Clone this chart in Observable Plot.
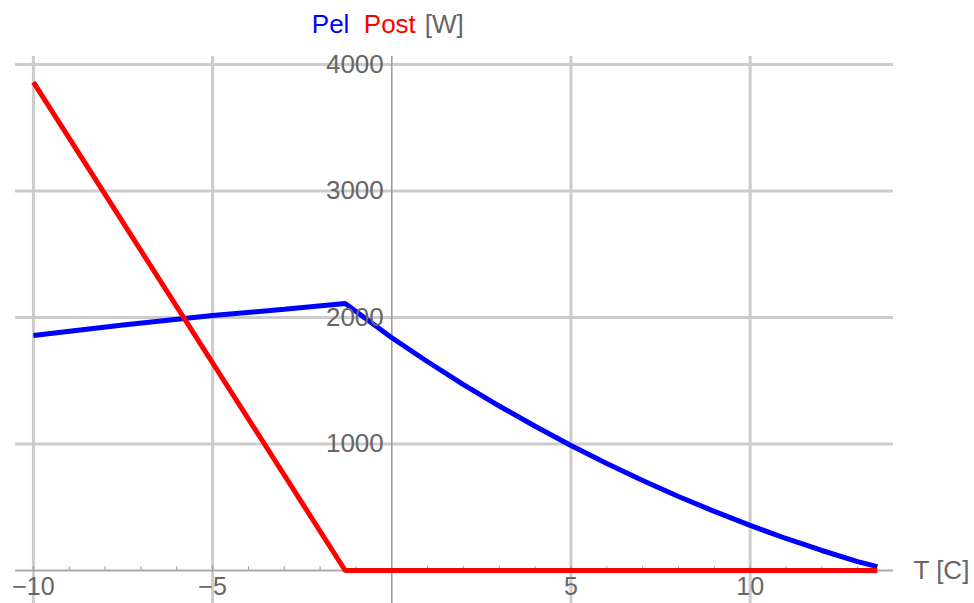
<!DOCTYPE html>
<html>
<head>
<meta charset="utf-8">
<script src="https://cdn.jsdelivr.net/npm/d3@7"></script>
<script src="https://cdn.jsdelivr.net/npm/@observablehq/plot@0.6"></script>
<style>
  html, body { margin: 0; padding: 0; background: #fff; }
  #chart svg { display: block; }
</style>
</head>
<body>
<div id="chart"></div>
<script>
// Electrical power (Pel) versus outside temperature
const pelT = [-10, -7.5, -5, -3, -1.3, 0, 1, 2, 3, 4, 5, 6, 7, 8, 9, 10, 11, 12, 13, 13.55];
const pelW = [1858, 1940, 2015, 2065, 2110, 1840, 1650, 1470, 1300, 1140, 988, 846, 712, 585, 467, 356, 253, 158, 70, 30];

// Auxiliary heating power (Post) versus outside temperature
const postT = [-10, -1.3, 13.55];
const postW = [3860, 0, 0];

// Axis ticks
const xTickValues = [-10, -5, 5, 10];
const xTickLabels = ["\u221210", "\u22125", "5", "10"];
const xMinorTicks = [-10, -9, -8, -7, -6, -5, -4, -3, -2, -1, 1, 2, 3, 4, 5, 6, 7, 8, 9, 10, 11, 12, 13];
const yTickValues = [1000, 2000, 3000, 4000];
const yTickLabels = ["1000", "2000", "3000", "4000"];

// Axis titles
const xTitle = "T [C]";
const yTitleParts = ["Pel", "Post", "[W]"];

const pel = pelT.map((t, i) => ({t, w: pelW[i]}));
const post = postT.map((t, i) => ({t, w: postW[i]}));

const font = "'Liberation Sans', Arial, Helvetica, sans-serif";
const textGray = "#666666";
const gridGray = "#cccccc";
const labelSize = 26;

const chart = Plot.plot({
  width: 974,
  height: 603,
  marginLeft: 15,
  marginRight: 81,
  marginTop: 56,
  marginBottom: 0,
  x: {domain: [-10.5, 14], axis: null},
  y: {domain: [-261, 4063], axis: null},
  style: {fontFamily: font, background: "#fff", overflow: "visible"},
  marks: [
    // grid
    Plot.ruleX(xTickValues, {x: d => d, stroke: gridGray, strokeWidth: 3}),
    Plot.ruleY(yTickValues, {y: d => d, stroke: gridGray, strokeWidth: 3}),
    // axes through the origin
    Plot.ruleY([0], {y: d => d, stroke: "#aaaaaa", strokeWidth: 2}),
    Plot.ruleX([0], {x: d => d, stroke: "#999999", strokeWidth: 1.5}),
    // minor ticks on the temperature axis
    Plot.ruleX(xMinorTicks, {x: d => d, y1: 0, y2: 30, stroke: "#999999", strokeWidth: 1}),
    // curves
    Plot.line(pel, {x: "t", y: "w", stroke: "#0000ff", strokeWidth: 5, strokeLinecap: "butt", strokeLinejoin: "miter"}),
    Plot.line(post, {x: "t", y: "w", stroke: "#ff0000", strokeWidth: 5, strokeLinecap: "butt", strokeLinejoin: "miter"}),
    // tick labels
    Plot.text(xTickValues, {x: d => d, y: 0, text: (d, i) => xTickLabels[i], dy: 17, fontSize: 25, fill: textGray}),
    Plot.text(yTickValues, {x: 0, y: d => d, text: (d, i) => yTickLabels[i], textAnchor: "end", dx: -8, fontSize: labelSize, fill: textGray}),
    // axis titles
    Plot.text([xTitle], {x: 14, y: 0, text: d => d, textAnchor: "start", dx: 20, fontSize: labelSize, fill: textGray}),
    Plot.text([yTitleParts[0]], {x: 0, y: 4063, text: d => d, textAnchor: "start", dx: -80, dy: -32, fontSize: labelSize, fill: "#0000ff"}),
    Plot.text([yTitleParts[1]], {x: 0, y: 4063, text: d => d, textAnchor: "start", dx: -28, dy: -32, fontSize: labelSize, fill: "#ff0000"}),
    Plot.text([yTitleParts[2]], {x: 0, y: 4063, text: d => d, textAnchor: "start", dx: 33, dy: -32, fontSize: labelSize, fill: textGray})
  ]
});

document.getElementById("chart").appendChild(chart);
</script>
</body>
</html>
